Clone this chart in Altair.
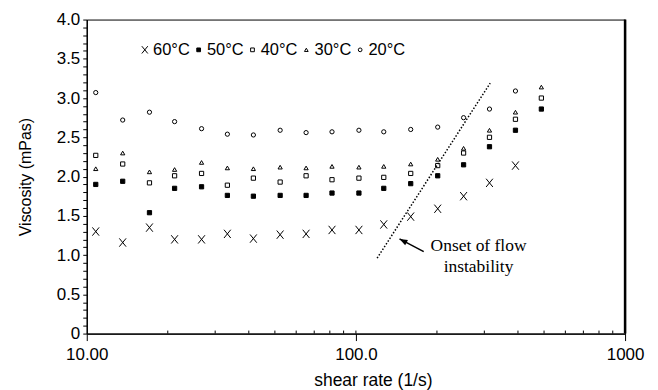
import altair as alt
import pandas as pd

# ---------------- data ----------------
series_names = ["60°C", "50°C", "40°C", "30°C", "20°C"]
shear_rate = [10.8, 13.6, 17.1, 21.2, 26.7, 33.3, 41.6, 52.3, 65.3, 81.5,
              102.6, 126.9, 159.8, 201.3, 251.2, 313.5, 391.5, 488.6]
visc_60 = [1.30, 1.16, 1.35, 1.20, 1.20, 1.27, 1.21, 1.26, 1.27, 1.32,
           1.32, 1.39, 1.49, 1.59, 1.75, 1.92, 2.14]
visc_50 = [1.90, 1.94, 1.54, 1.85, 1.87, 1.76, 1.75, 1.76, 1.76, 1.79,
           1.79, 1.85, 1.91, 2.01, 2.15, 2.38, 2.59, 2.86]
visc_40 = [2.27, 2.16, 1.92, 2.01, 2.04, 1.89, 1.98, 1.93, 2.01, 1.96,
           1.98, 1.99, 2.04, 2.14, 2.30, 2.50, 2.73, 3.00]
visc_30 = [2.10, 2.30, 2.06, 2.09, 2.18, 2.11, 2.10, 2.12, 2.11, 2.13,
           2.12, 2.13, 2.16, 2.22, 2.36, 2.59, 2.82, 3.14]
visc_20 = [3.07, 2.72, 2.82, 2.70, 2.61, 2.54, 2.53, 2.59, 2.56, 2.57,
           2.59, 2.57, 2.60, 2.63, 2.75, 2.86, 3.09]

# axis ticks / labels
x_major_ticks = [10, 100, 1000]
x_inner_ticks = [20, 30, 40, 50, 60, 70, 80, 90, 100,
                 200, 300, 400, 500, 600, 700, 800, 900]
y_tick_values = [round(i * 0.1, 1) for i in range(41)]

# annotation (data coordinates)
onset_line_x = [119.9, 315.4]
onset_line_y = [0.961, 3.191]
arrow_x = [178.6, 145.2]   # tail -> head
arrow_y = [1.045, 1.206]
note_lines = ["Onset of flow", "instability"]
note_x = [285.5, 285.5]
note_y = [1.117, 0.851]

# ---------------- build tables ----------------
rows = []
for name, vals in zip(series_names, [visc_60, visc_50, visc_40, visc_30, visc_20]):
    for xv, yv in zip(shear_rate, vals):
        rows.append({"series": name, "x": xv, "y": yv})
df = pd.DataFrame(rows)

df_inner = pd.DataFrame({"x": x_inner_ticks})
df_onset = pd.DataFrame({"x": onset_line_x, "y": onset_line_y, "o": [0, 1]})
df_arrow = pd.DataFrame({"x": arrow_x, "y": arrow_y, "o": [0, 1]})
df_head = pd.DataFrame({"x": [arrow_x[1]], "y": [arrow_y[1]]})
df_note = pd.DataFrame({"x": note_x, "y": note_y, "t": note_lines})

W, H = 540, 315
SANS = "Liberation Sans"
SERIF = "Liberation Serif"

X_PATH = "M-1.6,-1.96L1.6,1.96M1.6,-1.96L-1.6,1.96"
HEAD_PATH = "M0,0L0.75,2L-0.75,2Z"

xscale = alt.Scale(type="log", domain=[10, 1000], nice=False)
yscale = alt.Scale(domain=[0, 4], nice=False)

xaxis = alt.Axis(
    values=x_major_ticks,
    labelExpr="datum.value == 10 ? '10.00' : (datum.value == 100 ? '100.0' : '1000')",
    title="shear rate (1/s)", grid=False, tickSize=7, labelPadding=6,
    labelFlush=False, labelFontSize=17, titleFontSize=17.5,
    titleX=287, titleY=52, titleBaseline="alphabetic", titleAlign="center",
)
yaxis = alt.Axis(
    values=y_tick_values,
    labelExpr="(round(datum.value * 10) % 5 == 0) ? (datum.value == 0 ? '0' : format(datum.value, '.1f')) : ''",
    title="Viscosity (mPas)", grid=False, tickSize=4, labelPadding=3,
    labelFontSize=17, titleFontSize=16,
    titleX=-56, titleY=157.5, titleAngle=270, titleBaseline="alphabetic",
    titleAlign="center",
)

X = alt.X("x:Q", scale=xscale, axis=xaxis)
Y = alt.Y("y:Q", scale=yscale, axis=yaxis)

legend = alt.Legend(
    orient="none", legendX=50, legendY=22, direction="horizontal", title=None,
    labelFont=SANS, labelFontSize=16.5, labelColor="black", symbolSize=14,
    symbolStrokeWidth=1, labelOffset=0, columnPadding=0, padding=0,
    symbolOpacity=1,
)

points = alt.Chart(df).mark_point(opacity=1, strokeWidth=1, size=18).encode(
    x=X, y=Y,
    shape=alt.Shape("series:N", scale=alt.Scale(
        domain=series_names,
        range=[X_PATH, "square", "square", "triangle-up", "circle"]), legend=legend),
    fill=alt.Fill("series:N", scale=alt.Scale(
        domain=series_names,
        range=["transparent", "black", "transparent", "transparent", "transparent"]),
        legend=legend),
    stroke=alt.Stroke("series:N", scale=alt.Scale(
        domain=series_names,
        range=["black", "black", "black", "black", "black"]), legend=legend),
)

inner = alt.Chart(df_inner).mark_rule(color="black", strokeWidth=1).encode(
    x=X, y=alt.value(H), y2=alt.value(H - 3)
)

right_border = alt.Chart(df_head).mark_rule(color="black", strokeWidth=2.5).encode(
    x=alt.value(W), y=alt.value(0), y2=alt.value(H)
)

onset = alt.Chart(df_onset).mark_line(
    color="black", strokeWidth=1.5, strokeDash=[1.5, 1.8]
).encode(x=X, y=Y, order="o:Q")

arrow = alt.Chart(df_arrow).mark_line(color="black", strokeWidth=1.5).encode(
    x=X, y=Y, order="o:Q"
)

head = alt.Chart(df_head).mark_point(
    shape=HEAD_PATH, filled=True, color="black", opacity=1, size=64, angle=297.6
).encode(x=X, y=Y)

note = alt.Chart(df_note).mark_text(
    font=SERIF, fontSize=17.5, color="black", align="center", baseline="middle"
).encode(x=X, y=Y, text="t:N")

chart = alt.layer(points, inner, right_border, onset, arrow, head, note).properties(
    width=W, height=H,
    autosize=alt.AutoSizeParams(type="none"),
    padding={"left": 79, "top": 11, "right": 25, "bottom": 56},
    background="white",
).configure_view(
    stroke="black", strokeWidth=1
).configure_axis(
    labelFont=SANS, titleFont=SANS, labelColor="black", titleColor="black",
    titleFontWeight="normal", domainColor="black", tickColor="black",
    domainWidth=1.3, tickWidth=1,
)

chart.save("out.html", embed_options={"renderer": "svg", "actions": False})
